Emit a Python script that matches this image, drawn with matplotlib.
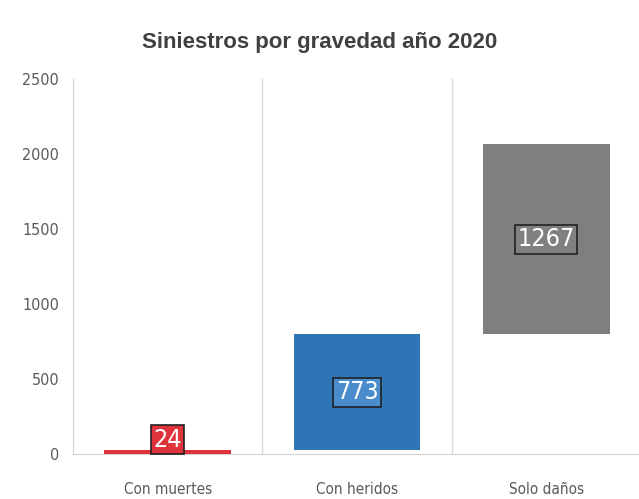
import numpy as np
import matplotlib.pyplot as plt

# datos
categorias = ["Con muertes", "Con heridos", "Solo daños"]
valores = [24, 773, 1267]
colores = ["#e0343c", "#2e75b6", "#7f7f7f"]
colores_caja = ["#e0343c", "#4a8ccc", "#808080"]
y_ticks = [0, 500, 1000, 1500, 2000, 2500]

bases = np.concatenate([[0], np.cumsum(valores)[:-1]])
x = np.arange(len(categorias))

narrow = ["Liberation Sans Narrow", "DejaVu Sans"]
stretch = "condensed"

fig = plt.figure(figsize=(6.39, 4.99), dpi=100)
ax = fig.add_axes([0.1142, 0.0902, 0.889, 0.7515])

ax.bar(x, valores, bottom=bases, width=0.67, color=colores, zorder=3)

# etiquetas con caja
for i, (v, b) in enumerate(zip(valores, bases)):
    yc = b + v / 2 if v > 200 else 95
    ax.text(x[i], yc, str(v), ha="center", va="center", color="white",
            fontsize=18, family=narrow, fontstretch=stretch, zorder=5,
            bbox=dict(boxstyle="square,pad=0.1", fc=colores_caja[i],
                      ec="#222222", lw=1.2))

ax.set_xlim(-0.5, 2.5)
ax.set_ylim(0, 2500)
ax.set_yticks(y_ticks)
ax.set_xticks(x)
ax.set_xticklabels(categorias, family=narrow, fontstretch=stretch,
                   fontsize=11, color="#595959")
ax.tick_params(axis="y", labelsize=11.5, labelcolor="#595959", length=0, pad=10)
ax.tick_params(axis="x", length=0, pad=20)
for lab in ax.get_yticklabels():
    lab.set_family(narrow)
    lab.set_fontstretch(stretch)

# separadores verticales entre categorias
for xs in [0.5, 1.5, 2.5]:
    ax.axvline(xs, color="#d9d9d9", lw=1, zorder=1)

for s in ["top", "right"]:
    ax.spines[s].set_visible(False)
ax.spines["left"].set_color("#d0d0d0")
ax.spines["bottom"].set_color("#d0d0d0")

fig.text(0.5, 0.915, "Siniestros por gravedad año 2020", ha="center", va="center",
         fontsize=16, fontweight="bold", color="#404040", family="Liberation Sans")

fig.savefig("out.png", dpi=100)
